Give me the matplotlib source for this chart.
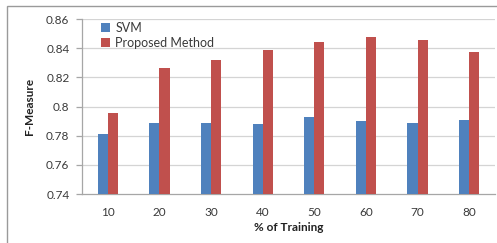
import numpy as np
import matplotlib
matplotlib.use("Agg")
import matplotlib.pyplot as plt
from matplotlib.patches import Rectangle

# data
training = ["10", "20", "30", "40", "50", "60", "70", "80"]
svm = [0.781, 0.789, 0.7885, 0.788, 0.7925, 0.790, 0.7885, 0.7905]
proposed = [0.7955, 0.8265, 0.832, 0.8385, 0.844, 0.8475, 0.8455, 0.8375]
y_ticks = [0.74, 0.76, 0.78, 0.80, 0.82, 0.84, 0.86]
y_tick_labels = ["0.74", "0.76", "0.78", "0.8", "0.82", "0.84", "0.86"]

plt.rcParams['font.family'] = ['Lato', 'DejaVu Sans']

fig = plt.figure(figsize=(4.97, 2.43), dpi=100)
ax = fig.add_axes([82 / 497, 1 - 194 / 243, (495 - 82) / 497, (194 - 19) / 243])

# outer chart frame (cut off at right and bottom like the reference)
fig.patches.append(Rectangle((7 / 497, -0.2), 1.2, 1.2 - 6 / 243,
                             transform=fig.transFigure, fill=False,
                             edgecolor='#9a9a9a', linewidth=1.0))

x = np.arange(len(training))
w = 0.195
ax.bar(x - w / 2, svm, width=w, color='#4F81BD', label='SVM', zorder=3)
ax.bar(x + w / 2, proposed, width=w, color='#C0504D', label='Proposed Method', zorder=3)

ax.set_xlim(-0.5, len(training) - 0.5)
ax.set_ylim(0.74, 0.86)
ax.set_yticks(y_ticks)
ax.set_yticklabels(y_tick_labels)
ax.set_xticks(x)
ax.set_xticklabels(training)

for yv in y_ticks[1:]:
    ax.axhline(yv, color='#d4d4d4', linewidth=0.9, zorder=1)

for s in ['top', 'right']:
    ax.spines[s].set_visible(False)
for s in ['left', 'bottom']:
    ax.spines[s].set_color('#a6a6a6')
    ax.spines[s].set_linewidth(0.9)

ax.tick_params(axis='y', length=4, width=0.9, color='#a6a6a6', pad=5,
               labelsize=8.5, labelcolor='#3a3a3a')
ax.tick_params(axis='x', length=0, pad=9, labelsize=8.5, labelcolor='#3a3a3a')

ax.set_xlabel('% of Training', fontsize=8.5, fontweight='bold', color='#222222', labelpad=3)
ax.set_ylabel('F-Measure', fontsize=8.5, fontweight='bold', color='#222222', labelpad=8)

ax.legend(loc='upper left', bbox_to_anchor=(0.035, 1.01), frameon=False,
          fontsize=9, handlelength=0.7, handleheight=0.7, handletextpad=0.4,
          labelspacing=0.2, borderaxespad=0, labelcolor='#3a3a3a')

fig.savefig('out.png', dpi=100)
